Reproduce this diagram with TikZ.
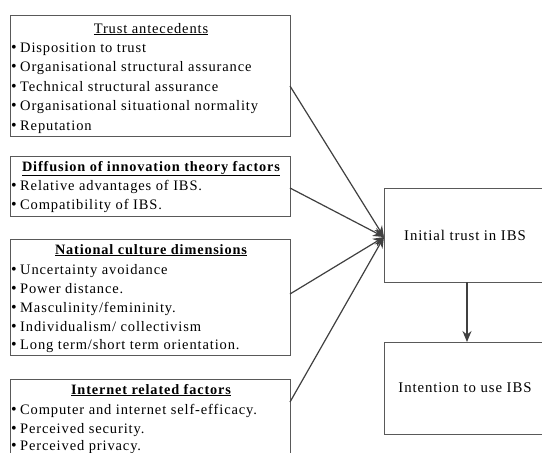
\documentclass[tikz,border=0pt]{standalone}
\usepackage{fontspec}
\setmainfont{Liberation Serif}[LetterSpace=6]
\usetikzlibrary{arrows.meta,calc}
\newcommand\bul{\makebox[10pt][l]{\hspace{1pt}\fontsize{16}{16}\selectfont\raisebox{-0.3pt}{•}}}
\begin{document}
\begin{tikzpicture}[x=1pt,y=-1pt,
  box/.style={draw=black!65, line width=0.9pt, anchor=north west, inner sep=0pt, outer sep=0pt},
  itm/.style={anchor=base west, inner sep=0pt, font=\fontsize{14.5}{17}\selectfont},
  ttl/.style={anchor=base, inner sep=0pt, font=\fontsize{14.5}{17}\selectfont},
  btl/.style={anchor=base, inner sep=0pt, font=\fontsize{14.3}{17}\selectfont\bfseries},
  rtx/.style={inner sep=0pt, font=\fontsize{14.8}{17}\selectfont},
  conn/.style={draw=black!75, line width=1.2pt, -{Stealth[length=11pt,width=9pt]}}]
\useasboundingbox (0,0) rectangle (542,453);
\clip (0,0) rectangle (542,453);
\fill[white] (0,0) rectangle (542,453);
% left boxes
\node[box, minimum width=280pt, minimum height=121pt] (b1) at (10,15) {};
\node[box, minimum width=280pt, minimum height=60pt] (b2) at (10,156) {};
\node[box, minimum width=280pt, minimum height=116pt] (b3) at (10,239) {};
\node[box, minimum width=280pt, minimum height=120pt] (b4) at (10,379) {};
% right boxes
\node[box, minimum width=166pt, minimum height=94pt] (r1) at (384,188) {};
\node[box, minimum width=166pt, minimum height=92pt] (r2) at (384,342) {};
\node[rtx] (r1t) at ([xshift=-2pt]r1.center) {Initial trust in IBS};
\node[rtx] (r2t) at ([xshift=-2pt]r2.center) {Intention to use IBS};
% box 1
\node[ttl] (t1) at (151,33) {\underline{Trust antecedents}};
\node[itm] (b1i1) at (10,52) {\bul Disposition to trust};
\node[itm] (b1i2) at (10,71.5) {\bul Organisational structural assurance};
\node[itm] (b1i3) at (10,91) {\bul Technical structural assurance};
\node[itm] (b1i4) at (10,110.5) {\bul Organisational situational normality};
\node[itm] (b1i5) at (10,130) {\bul Reputation};
% box 2
\node[btl] (t2) at (151,171) {\underline{Diffusion of innovation theory factors}};
\node[itm] (b2i1) at (10,190.5) {\bul Relative advantages of IBS.};
\node[itm] (b2i2) at (10,209) {\bul Compatibility of IBS.};
% box 3
\node[btl] (t3) at (151,254) {\underline{National culture dimensions}};
\node[itm] (b3i1) at (10,274) {\bul Uncertainty avoidance};
\node[itm] (b3i2) at (10,293) {\bul Power distance.};
\node[itm] (b3i3) at (10,312) {\bul Masculinity/femininity.};
\node[itm] (b3i4) at (10,331) {\bul Individualism/ collectivism};
\node[itm] (b3i5) at (10,349.5) {\bul Long term/short term orientation.};
% box 4
\node[btl] (t4) at (151,394) {\underline{Internet related factors}};
\node[itm] (b4i1) at (10,414) {\bul Computer and internet self-efficacy.};
\node[itm] (b4i2) at (10,433) {\bul Perceived security.};
\node[itm] (b4i3) at (10,450.5) {\bul Perceived privacy.};
% connectors
\coordinate (tgt) at ([yshift=-2pt]r1.west);
\draw[conn] ([yshift=-71pt]b1.north east) -- (tgt);
\draw[conn] ([yshift=-32pt]b2.north east) -- (tgt);
\draw[conn] ([yshift=-55pt]b3.north east) -- (tgt);
\draw[conn] ([yshift=-23pt]b4.north east) -- (tgt);
\draw[conn] (r1.south) -- (r2.north);
\end{tikzpicture}
\end{document}
